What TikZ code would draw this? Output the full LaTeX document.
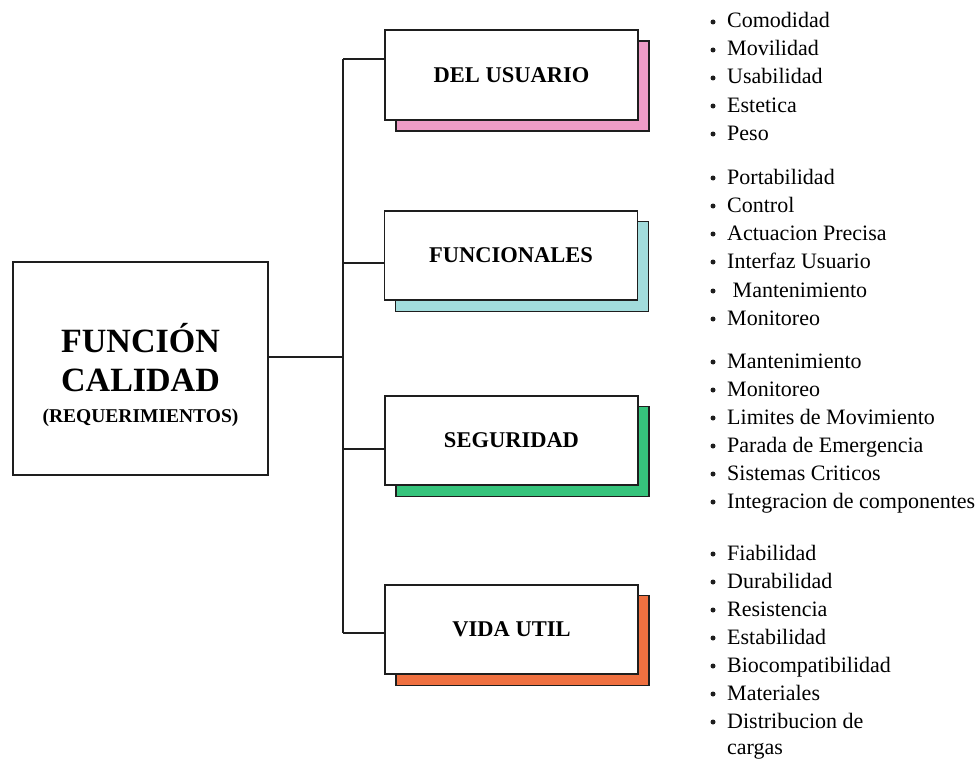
\documentclass[tikz,border=0pt]{standalone}
\usepackage{fontspec}
\setmainfont{Liberation Serif}
\definecolor{pinkshade}{HTML}{EE9CC6}
\definecolor{tealshade}{HTML}{A2DCDC}
\definecolor{greenshade}{HTML}{36C47C}
\definecolor{orangeshade}{HTML}{EF7040}
\definecolor{ink}{HTML}{1E1E1E}
\tikzset{
  frontbox/.style={draw=ink, line width=1.8pt, fill=white, inner sep=0pt,
    minimum width=253pt, minimum height=90pt,
    font=\fontsize{22.5}{26}\selectfont\rmfamily\bfseries},
  shadebox/.style={draw=ink, line width=1.3pt, fill=#1, inner sep=0pt,
    minimum width=253pt, minimum height=90pt},
  link/.style={draw=ink, line width=1.8pt},
  item/.style={anchor=base west, inner sep=0pt, font=\fontsize{22}{26}\selectfont\rmfamily},
  dot/.style={circle, fill=ink, inner sep=0pt, minimum size=5pt},
  titlefont/.style={anchor=base, inner sep=0pt, font=\fontsize{34}{38}\selectfont\rmfamily\bfseries},
}
\begin{document}
\begin{tikzpicture}[x=1pt, y=-1pt]
\useasboundingbox (0,0) rectangle (980,760);

% central box
\node[draw=ink, line width=1.8pt, minimum width=255pt, minimum height=213pt, inner sep=0pt] (main) at (140.5,368.5) {};
\node[titlefont] (t1) at (140.5,352) {FUNCIÓN};
\node[titlefont] (t2) at (140.5,391) {CALIDAD};
\node[anchor=base, inner sep=0pt, font=\fontsize{19.5}{22}\selectfont\rmfamily\bfseries] (t3) at (140.5,422) {(REQUERIMIENTOS)};

% category boxes with coloured offset shadows
\node[shadebox=pinkshade]   (s1) at (522.5,86)    {};
\node[shadebox=tealshade]   (s2) at (522,266.5)   {};
\node[shadebox=greenshade]  (s3) at (522.5,451.5) {};
\node[shadebox=orangeshade] (s4) at (522.5,640.5) {};

\node[frontbox] (b1) at (511.5,75)    {DEL USUARIO};
\node[frontbox, minimum height=89pt] (b2) at (511,255.5) {FUNCIONALES};
\node[frontbox, minimum height=89pt] (b3) at (511.5,440.5) {SEGURIDAD};
\node[frontbox, minimum height=89pt] (b4) at (511.5,629.5) {VIDA UTIL};

% tree connectors
\coordinate (j0) at (343,357);
\coordinate (j1) at (343,59);
\coordinate (j2) at (343,263);
\coordinate (j3) at (343,449);
\coordinate (j4) at (343,633);
\draw[link] (j1) -- (j4);
\draw[link] (main.east |- j0) -- (j0);
\draw[link] (j1) -- (j1 -| b1.west);
\draw[link] (j2) -- (j2 -| b2.west);
\draw[link] (j3) -- (j3 -| b3.west);
\draw[link] (j4) -- (j4 -| b4.west);

% bullet lists
\foreach \t/\y [count=\k] in {Comodidad/28, Movilidad/56, Usabilidad/84, Estetica/112, Peso/140}
  {\node[dot] (da\k) at (713,{\y-6}) {}; \node[item] (ia\k) at (727,\y) {\t};}
\foreach \t/\y [count=\k] in {Portabilidad/184, Control/212, Actuacion Precisa/240, Interfaz Usuario/268, \ Mantenimiento/297, Monitoreo/325}
  {\node[dot] (db\k) at (713,{\y-6}) {}; \node[item] (ib\k) at (727,\y) {\t};}
\foreach \t/\y [count=\k] in {Mantenimiento/368, Monitoreo/396, Limites de Movimiento/424, Parada de Emergencia/452, Sistemas Criticos/480, Integracion de componentes/508}
  {\node[dot] (dc\k) at (713,{\y-6}) {}; \node[item] (ic\k) at (727,\y) {\t};}
\foreach \t/\y [count=\k] in {Fiabilidad/560, Durabilidad/588, Resistencia/616, Estabilidad/644, Biocompatibilidad/672, Materiales/700, Distribucion de/728}
  {\node[dot] (dd\k) at (713,{\y-6}) {}; \node[item] (id\k) at (727,\y) {\t};}
\node[item] (id8) at (727,754) {cargas};
\end{tikzpicture}
\end{document}
